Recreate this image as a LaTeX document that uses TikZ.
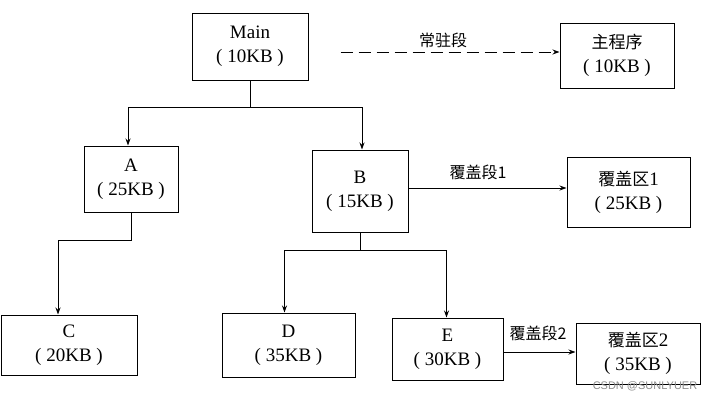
\documentclass[tikz,border=0pt]{standalone}
\usepackage{fontspec}
\setmainfont{Liberation Serif}
\newfontfamily\cjk{Noto Sans CJK SC}
\newfontfamily\wmfont{Liberation Sans}
\usetikzlibrary{arrows.meta}
\begin{document}
\begin{tikzpicture}[x=1pt,y=-1pt,
  box/.style={draw,line width=1pt,rectangle,align=center,inner sep=0pt,font=\fontsize{19}{24}\selectfont},
  arr/.style={line width=0.9pt,-{Stealth[length=7pt,width=5pt]}},
  lnk/.style={line width=0.9pt},
  lbl/.style={font=\cjk\fontsize{16}{18}\selectfont,inner sep=1pt}]
\useasboundingbox (0,0) rectangle (719,402);
\node[box,minimum width=116pt,minimum height=67pt] (main) at (250,46.5) {Main\\(\ 10KB\ )};
\node[box,minimum width=114pt,minimum height=65pt] (zcx) at (617,55.5) {{\cjk\fontsize{17}{24}\selectfont 主程序}\\(\ 10KB\ )};
\node[box,minimum width=94pt,minimum height=66pt] (a) at (131,179) {A\\(\ 25KB\ )};
\node[box,minimum width=96pt,minimum height=82pt] (b) at (360,191) {B\\(\ 15KB\ )};
\node[box,minimum width=123pt,minimum height=70pt] (f1) at (628.5,192) {{\cjk\fontsize{17}{24}\selectfont 覆盖区}1\\(\ 25KB\ )};
\node[box,minimum width=136pt,minimum height=60pt] (c) at (69,345) {C\\(\ 20KB\ )};
\node[box,minimum width=133pt,minimum height=64pt] (d) at (288.5,345) {D\\(\ 35KB\ )};
\node[box,minimum width=111pt,minimum height=62pt] (e) at (447.5,349) {E\\(\ 30KB\ )};
\node[box,minimum width=124pt,minimum height=61pt] (f2) at (638,353.5) {{\cjk\fontsize{17}{24}\selectfont 覆盖区}2\\(\ 35KB\ )};
% connectors
\draw[lnk] (main.south) -- ++(0,27) coordinate (mj);
\draw[arr] (mj) -| ([xshift=-3pt]a.north);
\draw[arr] (mj) -| ([xshift=2pt]b.north);
\draw[arr] (a.south) -- ++(0,28) -| ([xshift=-11pt]c.north);
\draw[lnk] (b.south) -- ++(0,18) coordinate (bj);
\draw[arr] (bj) -| ([xshift=-4pt]d.north);
\draw[arr] (bj) -| ([xshift=-1pt]e.north);
\draw[arr,dashed,dash pattern=on 12pt off 6pt] ([xshift=32pt]main.east |- 0,52) -- (zcx.west |- 0,52);
\node[lbl] (l0) at (443,40) {常驻段};
\draw[arr] (b.east |- 0,188) -- (f1.west |- 0,188);
\node[lbl] (l1) at (478,172) {覆盖段1};
\draw[arr] (e.east |- 0,352) -- (f2.west |- 0,352);
\node[lbl] (l2) at (538,333) {覆盖段2};
\node[font=\wmfont\fontsize{11}{12}\selectfont,text=black!45] (wm) at (645,386) {CSDN @SUNLYUER};
\end{tikzpicture}
\end{document}
